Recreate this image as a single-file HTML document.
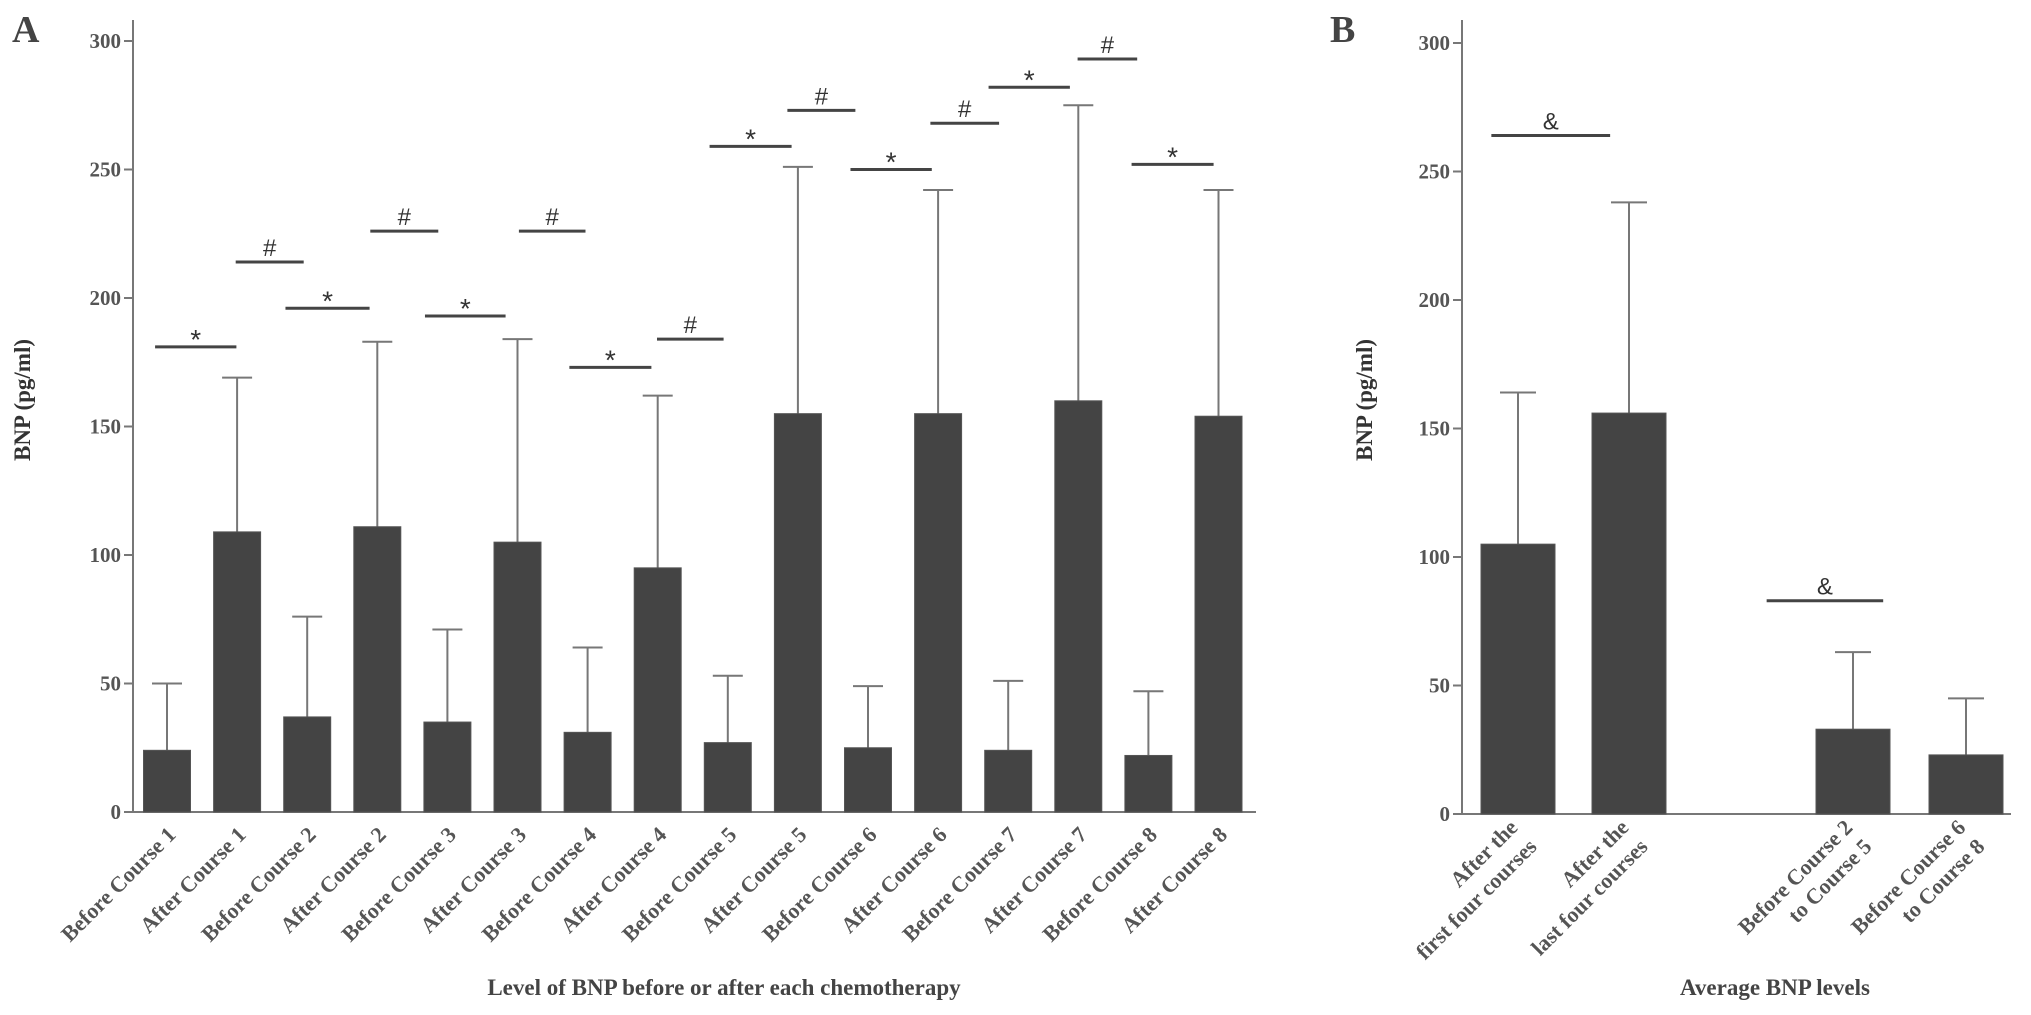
<!DOCTYPE html>
<html><head><meta charset="utf-8"><style>
html,body{margin:0;padding:0;background:#fff;}
svg{display:block;font-family:"Liberation Serif",serif;font-weight:bold;}
</style></head><body>
<svg id="chart" width="2031" height="1015" viewBox="0 0 2031 1015" xmlns="http://www.w3.org/2000/svg"></svg>
<script>
// Panel A data
const catsA = ["Before Course 1","After Course 1","Before Course 2","After Course 2","Before Course 3","After Course 3","Before Course 4","After Course 4","Before Course 5","After Course 5","Before Course 6","After Course 6","Before Course 7","After Course 7","Before Course 8","After Course 8"];
const meansA = [24,109,37,111,35,105,31,95,27,155,25,155,24,160,22,154];
const errTopA = [50,169,76,183,71,184,64,162,53,251,49,242,51,275,47,242];
const sigSymA = ["*","#","*","#","*","#","*","#","*","#","*","#","*","#","*"];
const sigValA = [181,214,196,226,193,226,173,184,259,273,250,268,282,293,252];
const sigFromA = [-0.17,0.98,1.69,2.9,3.68,5.02,5.74,6.99,7.74,8.85,9.75,10.89,11.72,12.99,13.76];
const sigToA = [0.99,1.95,2.89,3.87,4.83,5.97,6.91,7.94,8.91,9.82,10.91,11.87,12.88,13.84,14.93];
// Panel B data
const catsB = [["After the","first four courses"],["After the","last four courses"],["Before Course  2","to Course  5"],["Before Course 6","to Course 8"]];
const meansB = [105,156,33,23];
const errTopB = [164,238,63,45];
const sigSymB = ["&","&"];
const sigValB = [264,83];
const sigFromB = [-0.24,2.24];
const sigToB = [0.83,3.29];
const ticks = [0,50,100,150,200,250,300];

const svg = document.getElementById('chart');
const NS = 'http://www.w3.org/2000/svg';
function mk(tag, attrs, parent){
  const e = document.createElementNS(NS, tag);
  for (const k in attrs) e.setAttribute(k, attrs[k]);
  (parent||svg).appendChild(e);
  return e;
}
function yScale(v, zero){ return zero - v*2.57; }

function panel(cfg){
  const g = mk('g',{});
  
  
  const zero = cfg.zero;
  const xb = i => cfg.bars[i];
  const xc = i => cfg.bars[i] + cfg.bw/2;
  const ya = mk('line',{x1:cfg.ax,y1:20,x2:cfg.ax,y2:zero,stroke:'#777','stroke-width':2},g);
  
  
  const xa = mk('line',{x1:cfg.ax,y1:zero,x2:cfg.axEnd,y2:zero,stroke:'#777','stroke-width':2},g);
  
  
  ticks.forEach(t=>{
    const y = yScale(t, zero);
    mk('line',{x1:cfg.ax-9,y1:y,x2:cfg.ax,y2:y,stroke:'#777','stroke-width':2},g);
    const tx = mk('text',{x:cfg.ax-12,y:y+7,'text-anchor':'end','font-size':21,fill:'#555'},g);
    tx.textContent = t;
    
    
  });
  cfg.means.forEach((m,i)=>{
    const top = yScale(cfg.err[i], zero);
    const el = mk('line',{x1:xc(i),y1:top,x2:xc(i),y2:yScale(m,zero),stroke:'#777','stroke-width':2},g);
    
    
    mk('line',{x1:xc(i)-cfg.cap/2,y1:top,x2:xc(i)+cfg.cap/2,y2:top,stroke:'#777','stroke-width':2},g);
    const r = mk('rect',{x:xb(i),y:yScale(m,zero),width:cfg.bw,height:m*2.57,fill:'#444',stroke:'#555','stroke-width':1},g);
    
    
  });
  cfg.sigSym.forEach((s,i)=>{
    const y = yScale(cfg.sigVal[i], zero);
    const x1 = xc(0) + cfg.sigFrom[i]*cfg.step, x2 = xc(0) + cfg.sigTo[i]*cfg.step;
    const l = mk('line',{x1:x1,y1:y,x2:x2,y2:y,stroke:'#444','stroke-width':3},g);
    
    
    const t = mk('text',{x:(x1+x2)/2,y:s==='*'?y+2:y-6,'text-anchor':'middle','font-size':s==='*'?28:24,'font-weight':'normal',fill:'#333','font-family':'Liberation Sans, sans-serif'},g);
    t.textContent = s;
    
    
  });
  cfg.cats.forEach((c,i)=>{
    const lines = Array.isArray(c)?c:[c];
    const x = xc(i)+10, y = zero+24;
    const t = mk('text',{transform:`translate(${x},${y}) rotate(-45)`,'text-anchor':'end','font-size':22,fill:'#555'},g);
    
    
    lines.forEach((ln,k)=>{
      const ts = mk('tspan',{x:0,y:(k-(lines.length-1))*27 + (lines.length>1? 14:0)},t);
      ts.textContent = ln;
    });
  });
}

const barsA = catsA.map((_,i)=>143.5+70.1*i);
panel({name:'panel-a',pre:'a-',zero:812,ax:133,axEnd:1256,bars:barsA,bw:47,step:70.1,cap:30,
  means:meansA,err:errTopA,sigSym:sigSymA,sigVal:sigValA,sigFrom:sigFromA,sigTo:sigToA,cats:catsA});
panel({name:'panel-b',pre:'b-',zero:814,ax:1462,axEnd:2011,bars:[1481,1592,1816,1929],bw:74,step:111,cap:36,
  means:meansB,err:errTopB,sigSym:sigSymB,sigVal:sigValB,sigFrom:sigFromB,sigTo:sigToB,cats:catsB});

function txt(attrs, s, name){
  const t = mk('text', attrs);
  t.textContent = s;
  
  
}
txt({x:12,y:42,'font-size':38,fill:'#444'},'A','panel-a-letter');
txt({x:1330,y:42,'font-size':38,fill:'#444'},'B','panel-b-letter');
txt({transform:'translate(30,400) rotate(-90)','text-anchor':'middle','font-size':23,fill:'#333'},'BNP  (pg/ml)','a-y-axis-title');
txt({transform:'translate(1372,400) rotate(-90)','text-anchor':'middle','font-size':23,fill:'#333'},'BNP  (pg/ml)','b-y-axis-title');
txt({x:724,y:995,'text-anchor':'middle','font-size':23,fill:'#444'},'Level of BNP before or after each chemotherapy','a-x-axis-title');
txt({x:1775,y:995,'text-anchor':'middle','font-size':23,fill:'#444'},'Average BNP levels','b-x-axis-title');
</script>
</body></html>
